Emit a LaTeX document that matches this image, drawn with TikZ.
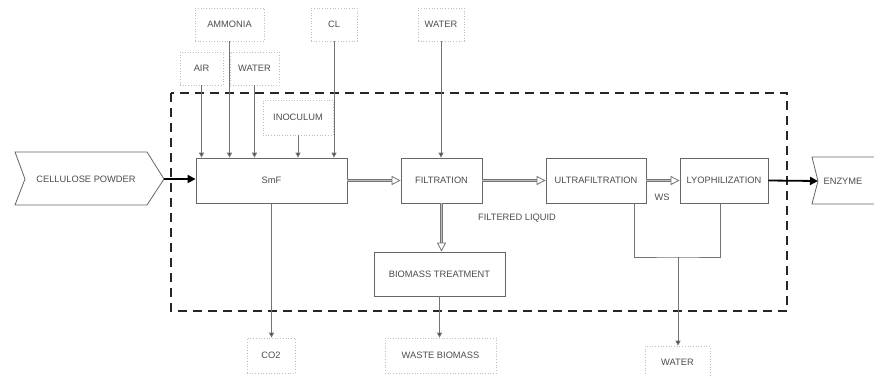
\documentclass[tikz,border=0pt]{standalone}
\usepackage{fontspec}
\setmainfont{Liberation Sans}
\usetikzlibrary{arrows.meta}
\begin{document}
\begin{tikzpicture}[x=1pt,y=-1pt,
  every node/.style={font=\fontsize{9.3}{11}\selectfont, text=black!70},
  procbox/.style={draw=black!60, line width=0.8pt, inner sep=0pt, fill=white},
  extbox/.style={draw=black!25, dotted, line width=0.7pt, inner sep=0pt},
  plainline/.style={draw=black!55, line width=0.9pt},
  feedline/.style={draw=black!55, line width=0.9pt, -{Triangle[length=5pt,width=5pt,fill=black!80]}},
  flowline/.style={draw=black!55, line width=0.8pt, double=black!25, double distance=1pt, -{Triangle[open,length=9pt,width=9pt]}},
  mainline/.style={draw=black, line width=1.8pt, -{Triangle[length=8pt,width=8pt]}},
  sysbox/.style={draw=black!85, line width=2.2pt, dash pattern=on 9pt off 6pt},
]
\useasboundingbox (0,0) rectangle (874,375);

% system boundary
\draw[sysbox] (171,93) rectangle (787,311);

% chevrons
\draw[draw=black!60, line width=0.8pt, fill=white] (15,152) -- (147,152) -- (164,179) -- (147,205) -- (15,205) -- (25,179) -- cycle;
\node (cell) at (86,179) {CELLULOSE POWDER};
\coordinate (celltip) at (164,179);
\draw[draw=black!60, line width=0.8pt, fill=white] (880,157) -- (812,157) -- (818,181) -- (812,204) -- (880,204);
\node (enz) at (843,181) {ENZYME};
\coordinate (enznotch) at (818,181);

% process boxes
\node[procbox, minimum width=151pt, minimum height=45pt] (smf) at (271.5,180.5) {SmF};
\node[procbox, minimum width=81pt, minimum height=45pt] (filt) at (441.5,180.5) {FILTRATION};
\node[procbox, minimum width=100pt, minimum height=45pt] (ultra) at (596,180.5) {ULTRAFILTRATION};
\node[procbox, minimum width=88pt, minimum height=45pt] (lyo) at (724,180.5) {LYOPHILIZATION};
\node[procbox, minimum width=131pt, minimum height=44pt] (bio) at (439.5,274) {BIOMASS TREATMENT};

% external boxes
\node[extbox, minimum width=43pt, minimum height=33pt] (air) at (201.5,68.5) {AIR};
\node[extbox, minimum width=69pt, minimum height=33pt] (amm) at (229.5,24.5) {AMMONIA};
\node[extbox, minimum width=49pt, minimum height=33pt] (wat1) at (254.5,68.5) {WATER};
\node[extbox, minimum width=70pt, minimum height=35pt] (inoc) at (298,117.5) {INOCULUM};
\node[extbox, minimum width=46pt, minimum height=33pt] (cl) at (334,24.5) {CL};
\node[extbox, minimum width=46pt, minimum height=33pt] (wat2) at (441,24.5) {WATER};
\node[extbox, minimum width=48pt, minimum height=35pt] (co2) at (271,355.5) {CO2};
\node[extbox, minimum width=111pt, minimum height=35pt] (waste) at (440.5,355.5) {WASTE BIOMASS};
\node[extbox, minimum width=65pt, minimum height=32pt] (wat3) at (677.5,362) {WATER};

% labels
\node (fl) at (517,218) {FILTERED LIQUID};
\node (ws) at (662,197) {WS};

% feeds into SmF
\draw[feedline] (air.south) -- (air.south |- smf.north);
\draw[feedline] (amm.south) -- (amm.south |- smf.north);
\draw[feedline] (wat1.south) -- (wat1.south |- smf.north);
\draw[feedline] (inoc.south) -- (inoc.south |- smf.north);
\draw[feedline] (cl.south) -- (cl.south |- smf.north);
\draw[feedline] (wat2.south) -- (wat2.south |- filt.north);

% outputs
\draw[feedline] (smf.south) -- (smf.south |- co2.north);
\draw[feedline] (bio.south) -- (bio.south |- waste.north);
\coordinate (j) at (678,257);
\draw[plainline] ([xshift=38pt]ultra.south) |- (j) -| ([xshift=-4pt]lyo.south);
\draw[feedline] (j) -- (j |- wat3.north);

% main flow
\draw[mainline] (celltip) -- (celltip -| smf.west);
\draw[flowline] (smf.east) -- (filt.west);
\draw[flowline] (filt.east) -- (ultra.west);
\draw[flowline] (ultra.east) -- (lyo.west);
\draw[flowline] (filt.south) -- (filt.south |- bio.north);
\draw[mainline] (lyo.east) -- (enznotch);
\end{tikzpicture}
\end{document}
